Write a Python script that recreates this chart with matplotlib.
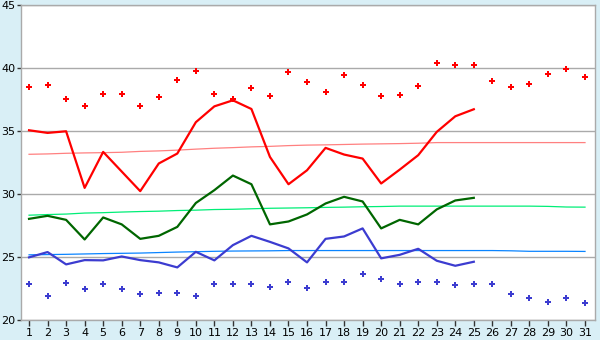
import matplotlib
matplotlib.use("Agg")
import matplotlib.pyplot as plt

days = list(range(1, 32))
obs_days = list(range(1, 26))

record_max = [38.55, 38.7, 37.56, 37.04, 37.99, 38.0, 37.04, 37.75, 39.1, 39.8,
              38.0, 37.6, 38.4, 37.83, 39.74, 38.94, 38.15, 39.5, 38.7, 37.83,
              37.9, 38.6, 40.45, 40.29, 40.29, 39.02, 38.55, 38.78, 39.58, 39.98, 39.34]
record_min = [22.83, 21.88, 22.91, 22.44, 22.83, 22.44, 22.04, 22.12, 22.12, 21.88,
              22.83, 22.83, 22.83, 22.6, 22.99, 22.52, 22.99, 22.99, 23.63, 23.23,
              22.83, 22.99, 22.99, 22.75, 22.83, 22.83, 22.04, 21.72, 21.4, 21.72, 21.32]

obs_max = [35.08, 34.87, 35.0, 30.5, 33.36, 31.8, 30.24, 32.44, 33.23, 35.72,
           36.98, 37.46, 36.77, 32.96, 30.79, 31.9, 33.68, 33.15, 32.83, 30.85,
           31.95, 33.1, 34.95, 36.19, 36.75]
obs_mean = [28.04, 28.28, 27.96, 26.4, 28.15, 27.6, 26.45, 26.69, 27.4, 29.3,
            30.32, 31.48, 30.79, 27.6, 27.83, 28.39, 29.26, 29.79, 29.42, 27.28,
            27.96, 27.6, 28.79, 29.5, 29.71]
obs_min = [24.98, 25.4, 24.42, 24.76, 24.74, 25.05, 24.76, 24.58, 24.18, 25.42,
           24.74, 25.95, 26.69, 26.21, 25.69, 24.58, 26.45, 26.64, 27.28, 24.9,
           25.18, 25.66, 24.71, 24.31, 24.63]

normal_max = [33.17, 33.2, 33.25, 33.28, 33.3, 33.33, 33.4, 33.44, 33.5, 33.58,
              33.65, 33.7, 33.76, 33.8, 33.86, 33.9, 33.92, 33.95, 33.98, 34.0,
              34.02, 34.05, 34.1, 34.1, 34.1, 34.1, 34.1, 34.1, 34.1, 34.1, 34.1]
normal_mean = [28.33, 28.38, 28.42, 28.5, 28.53, 28.58, 28.62, 28.65, 28.7, 28.73,
               28.78, 28.8, 28.84, 28.88, 28.9, 28.92, 28.95, 28.97, 29.0, 29.02,
               29.05, 29.05, 29.05, 29.05, 29.05, 29.05, 29.05, 29.05, 29.03, 28.98, 28.97]
normal_min = [25.18, 25.2, 25.22, 25.25, 25.28, 25.3, 25.32, 25.36, 25.4, 25.43,
              25.46, 25.48, 25.49, 25.5, 25.52, 25.52, 25.52, 25.52, 25.52, 25.52,
              25.52, 25.52, 25.52, 25.52, 25.52, 25.52, 25.5, 25.46, 25.46, 25.46, 25.45]

y_ticks = [20, 25, 30, 35, 40, 45]

bg = "#d9eff6"
grid_c = "#aaaaaa"
red = "#ff0000"
green = "#006600"
blue = "#3c3cd0"

fig = plt.figure(figsize=(6, 3.4), dpi=100, facecolor=bg)
ax = fig.add_axes([0.0345, 0.0588, 0.9575, 0.9252])
ax.set_facecolor("white")

ax.plot(days, normal_max, color="#ff8080", lw=0.9, zorder=2)
ax.plot(days, normal_mean, color="#00ee77", lw=0.9, zorder=2)
ax.plot(days, normal_min, color="#0a84ff", lw=0.9, zorder=2)

ax.plot(obs_days, obs_max, color=red, lw=1.6, zorder=3)
ax.plot(obs_days, obs_mean, color=green, lw=1.6, zorder=3)
ax.plot(obs_days, obs_min, color=blue, lw=1.6, zorder=3)

ax.plot(days, record_max, ls="none", marker="P", ms=5.0, color=red, mew=0, zorder=4)
ax.plot(days, record_min, ls="none", marker="P", ms=5.0, color=blue, mew=0, zorder=4)

ax.set_xlim(0.55, 31.55)
ax.set_ylim(20, 45)
ax.set_xticks(days)
ax.set_yticks(y_ticks)
ax.set_xticklabels([str(d) for d in days])
ax.yaxis.grid(True, color=grid_c, lw=1.0)
ax.set_axisbelow(True)
for s in ax.spines.values():
    s.set_color(grid_c)
    s.set_linewidth(1.0)
ax.tick_params(axis="x", direction="out", length=4, width=1, color="#333333",
               labelsize=8, pad=2)
ax.tick_params(axis="y", direction="out", length=3, width=1, color="#333333",
               labelsize=8, pad=1)

fig.savefig("out.png", dpi=100, facecolor=bg)
